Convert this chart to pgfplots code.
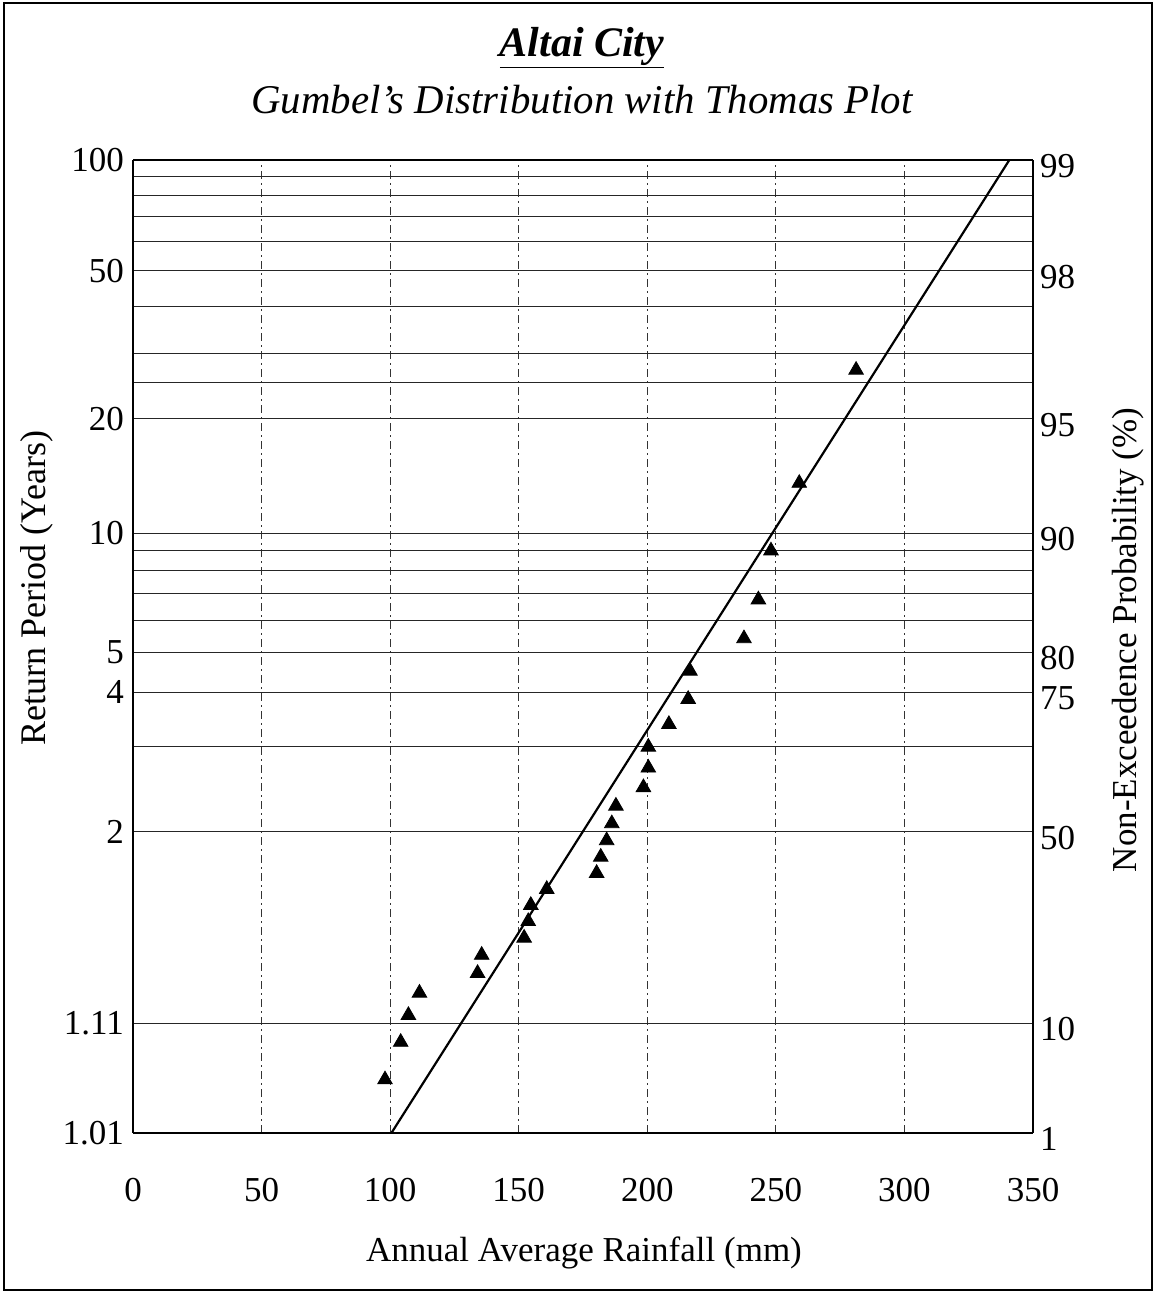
\documentclass[border=0pt]{standalone}
\usepackage{fontspec}
\setmainfont{Liberation Serif}
\usepackage{pgfplots}
\pgfplotsset{compat=1.18}

\begin{document}
\begin{tikzpicture}
\path[use as bounding box] (0pt,0pt) rectangle (578pt,647pt);
\draw[line width=0.8pt] (2pt,2pt) rectangle (576pt,645.5pt);
\node at (291pt,623pt) {\fontsize{21}{24}\selectfont\bfseries\itshape\underline{Altai City}};
\node at (291pt,597pt) {\fontsize{20.4}{24}\selectfont\itshape Gumbel's Distribution with Thomas Plot};
\node[rotate=90] at (18.5pt,353pt) {\fontsize{18}{21}\selectfont Return Period (Years)};
\node[rotate=90] at (564pt,327pt) {\fontsize{17.5}{21}\selectfont Non-Exceedence Probability (\%)};
\node at (292pt,20.5pt) {\fontsize{17.5}{21}\selectfont Annual Average Rainfall (mm)};

\begin{axis}[
  at={(66.5pt,80.5pt)}, anchor=south west,
  scale only axis, width=450pt, height=486.5pt,
  xmin=0, xmax=350, ymin=-1.529, ymax=4.600,
  axis line style={line width=1.1pt},
  xtick={0,50,...,350},
  ytick={-1.529,-0.838,0.367,0.903,1.246,1.500,1.702,1.870,2.013,2.139,2.250,2.970,3.199,3.384,3.676,3.902,4.086,4.241,4.376,4.494,4.600},
  yticklabels={1.01,1.11,2,,4,5,,,,,10,20,,,,50,,,,,100},
  major tick length=0pt,
  axis y line*=left,
  axis x line*=bottom,
  xmajorgrids, ymajorgrids,
  x grid style={black!80, line width=0.5pt, dash pattern=on 4pt off 2pt on 1pt off 2pt},
  y grid style={black!85, line width=0.5pt},
  tick label style={font=\fontsize{17.5}{21}\selectfont},
  /pgf/number format/assume math mode=true,
  xticklabel style={yshift=-19pt},
  yticklabel style={xshift=-1pt},
  clip=false,
]
\addplot[black, line width=1.1pt] coordinates {(100.5,-1.529) (340.8,4.600)};
\addplot[only marks, mark=triangle*, mark size=4.2pt, black] coordinates {
(98.0,-1.1927) (104.1,-0.9566) (107.1,-0.7872) (111.4,-0.6468)
(134.0,-0.5225) (135.6,-0.4082) (152.1,-0.3001) (153.7,-0.1959)
(154.7,-0.0940) (160.9,0.0068) (180.3,0.1076) (181.9,0.2096)
(184.2,0.3135) (186.2,0.4204) (187.8,0.5313) (198.5,0.6477)
(200.4,0.7709) (200.4,0.9027) (208.4,1.0458) (215.9,1.2036)
(216.6,1.3811) (237.6,1.5857) (243.2,1.8304) (248.1,2.1389)
(259.1,2.5645) (281.2,3.2770)
};
\end{axis}

\begin{axis}[
  at={(66.5pt,80.5pt)}, anchor=south west,
  scale only axis, width=450pt, height=486.5pt,
  xmin=0, xmax=350, ymin=-1.529, ymax=4.600,
  axis line style={line width=1.1pt},
  axis y line*=right,
  axis x line*=top,
  xtick=\empty,
  ytick={-1.527,-0.834,0.3665,1.246,1.500,2.250,2.970,3.902,4.600},
  yticklabels={1,10,50,75,80,90,95,98,99},
  major tick length=0pt,
  tick label style={font=\fontsize{17.5}{21}\selectfont},
  yticklabel style={yshift=-3pt},
]
\end{axis}
\end{tikzpicture}
\end{document}
